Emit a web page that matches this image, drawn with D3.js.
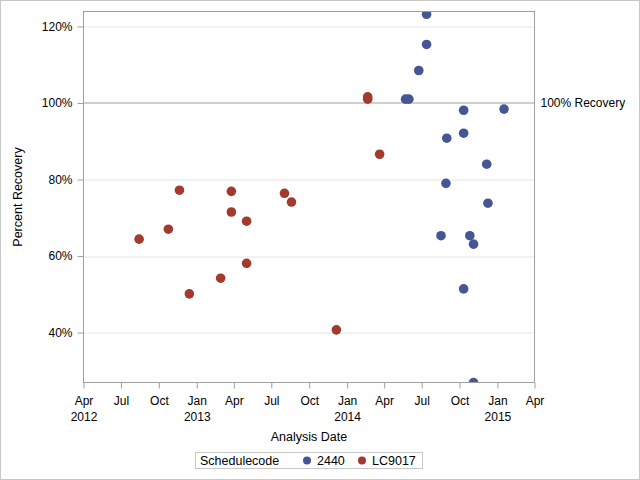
<!DOCTYPE html>
<html>
<head>
<meta charset="utf-8">
<script src="https://cdn.jsdelivr.net/npm/d3@7"></script>
<style>
  body { margin: 0; background: #fff; }
  svg { display: block; font-family: "Liberation Sans", Arial, sans-serif; }
</style>
</head>
<body>
<div id="viz_container"></div>
<script>
// Data ////////////////////////////////////////////////////
const seriesNames = ["2440", "LC9017"];

const dates2440 = [
  "2014-07-13", "2014-07-13", "2014-06-24", "2014-05-23", "2014-05-31",
  "2014-10-11", "2015-01-17", "2014-08-31", "2014-10-11", "2014-12-06",
  "2014-08-29", "2014-12-09", "2014-08-17", "2014-10-26", "2014-11-04",
  "2014-10-11", "2014-11-04"
];
const values2440 = [
  123.2, 115.3, 108.5, 101.0, 101.0,
  98.1, 98.4, 90.8, 92.1, 84.0,
  79.0, 73.8, 65.3, 65.3, 63.1,
  51.4, 26.9
];

const datesLC9017 = [
  "2012-08-14", "2012-10-24", "2012-11-20", "2012-12-14", "2013-02-28",
  "2013-03-26", "2013-03-26", "2013-05-02", "2013-05-02", "2013-08-02",
  "2013-08-19", "2013-12-06", "2014-02-20", "2014-02-20", "2014-03-21"
];
const valuesLC9017 = [
  64.4, 67.0, 77.2, 50.1, 54.2,
  76.9, 71.5, 69.1, 58.1, 76.4,
  74.1, 40.7, 101.6, 101.0, 86.6
];

const yTicks = [40, 60, 80, 100, 120];
const refValue = 100;
const refLabel = "100% Recovery";

const parseDate = d3.timeParse("%Y-%m-%d");
const points = [
  ...dates2440.map((d, i) => ({ series: "2440", date: parseDate(d), value: values2440[i] })),
  ...datesLC9017.map((d, i) => ({ series: "LC9017", date: parseDate(d), value: valuesLC9017[i] }))
];

// Layout //////////////////////////////////////////////////
const W = 640, H = 480;
const margin = { top: 11.5, right: 105.5, bottom: 97.5, left: 83.5 };
const width = W - margin.left - margin.right;
const height = H - margin.top - margin.bottom;

const svg = d3.select("#viz_container")
  .append("svg")
    .attr("width", W)
    .attr("height", H);

// outer border
svg.append("rect")
  .attr("x", 0.5).attr("y", 0.5)
  .attr("width", W - 1).attr("height", H - 1)
  .attr("fill", "none")
  .attr("stroke", "#c8c8c8");

const g = svg.append("g")
  .attr("transform", `translate(${margin.left},${margin.top})`);

// scales
const xScale = d3.scaleTime()
  .domain([new Date(2012, 3, 1), new Date(2015, 3, 1)])
  .range([0, width]);

const yScale = d3.scaleLinear()
  .domain([26.93, 123.92])
  .range([height, 0]);

const color = d3.scaleOrdinal()
  .domain(seriesNames)
  .range(["#445694", "#A23A2E"]);

// grid lines
g.append("g")
  .selectAll("line")
  .data(yTicks.filter(t => t !== refValue))
  .join("line")
    .attr("x1", 0).attr("x2", width)
    .attr("y1", d => Math.round(yScale(d)) + 0.5)
    .attr("y2", d => Math.round(yScale(d)) + 0.5)
    .attr("stroke", "#e4e4e4");

// reference line
g.append("line")
  .attr("x1", 0).attr("x2", width)
  .attr("y1", Math.round(yScale(refValue)) + 0.5)
  .attr("y2", Math.round(yScale(refValue)) + 0.5)
  .attr("stroke", "#9a9ea2");

g.append("text")
  .attr("x", width + 6)
  .attr("y", yScale(refValue) + 4.5)
  .attr("font-size", "12px")
  .attr("fill", "#000")
  .text(refLabel);

// points, clipped to the plot area
g.append("clipPath")
  .attr("id", "clip")
  .append("rect")
    .attr("width", width).attr("height", height);

g.append("g")
  .attr("clip-path", "url(#clip)")
  .selectAll("circle")
  .data(points)
  .join("circle")
    .attr("cx", d => xScale(d.date))
    .attr("cy", d => yScale(d.value))
    .attr("r", 4.8)
    .attr("fill", d => color(d.series));

// frame
g.append("rect")
  .attr("width", width).attr("height", height)
  .attr("fill", "none")
  .attr("stroke", "#a0a0a0");

// Y axis
const yAxis = g.append("g")
  .call(d3.axisLeft(yScale).tickValues(yTicks).tickSize(6).tickPadding(5).tickFormat(d => d + "%"));
yAxis.select(".domain").remove();
yAxis.selectAll(".tick line").attr("stroke", "#a0a0a0");
yAxis.selectAll(".tick text")
  .attr("font-size", "12px")
  .attr("font-family", "'Liberation Sans', Arial, sans-serif")
  .attr("fill", "#000");

// X axis
const xTicks = d3.timeMonth.every(3).range(new Date(2012, 3, 1), new Date(2015, 3, 2));
const xAxis = g.append("g")
  .attr("transform", `translate(0,${height})`)
  .call(d3.axisBottom(xScale).tickValues(xTicks).tickSize(6).tickPadding(8).tickFormat(d3.timeFormat("%b")));
xAxis.select(".domain").remove();
xAxis.selectAll(".tick line").attr("stroke", "#a0a0a0");
xAxis.selectAll(".tick text")
  .attr("font-size", "12px")
  .attr("font-family", "'Liberation Sans', Arial, sans-serif")
  .attr("fill", "#000");

// year under first tick and each January
xAxis.selectAll(".tick")
  .filter((d, i) => i === 0 || d.getMonth() === 0)
  .append("text")
    .attr("y", 38.5)
    .attr("text-anchor", "middle")
    .attr("font-size", "12px")
    .attr("font-family", "'Liberation Sans', Arial, sans-serif")
    .attr("fill", "#000")
    .text(d => d.getFullYear());

// axis labels
svg.append("text")
  .attr("x", margin.left + width / 2)
  .attr("y", 441)
  .attr("text-anchor", "middle")
  .attr("font-size", "12.5px")
  .text("Analysis Date");

svg.append("text")
  .attr("transform", "translate(22,197) rotate(-90)")
  .attr("text-anchor", "middle")
  .attr("font-size", "12.5px")
  .text("Percent Recovery");

// legend
const legend = svg.append("g");
legend.append("rect")
  .attr("x", 195.5).attr("y", 452.5)
  .attr("width", 227).attr("height", 16)
  .attr("fill", "none")
  .attr("stroke", "#c8c8c8");

legend.append("text")
  .attr("x", 200).attr("y", 464.5)
  .attr("font-size", "12.5px")
  .text("Schedulecode");

const legendX = [307, 362];
seriesNames.forEach((s, i) => {
  legend.append("circle")
    .attr("cx", legendX[i]).attr("cy", 460.5)
    .attr("r", 4)
    .attr("fill", color(s));
  legend.append("text")
    .attr("x", legendX[i] + 10).attr("y", 464.5)
    .attr("font-size", "12.5px")
    .text(s);
});
</script>
</body>
</html>
